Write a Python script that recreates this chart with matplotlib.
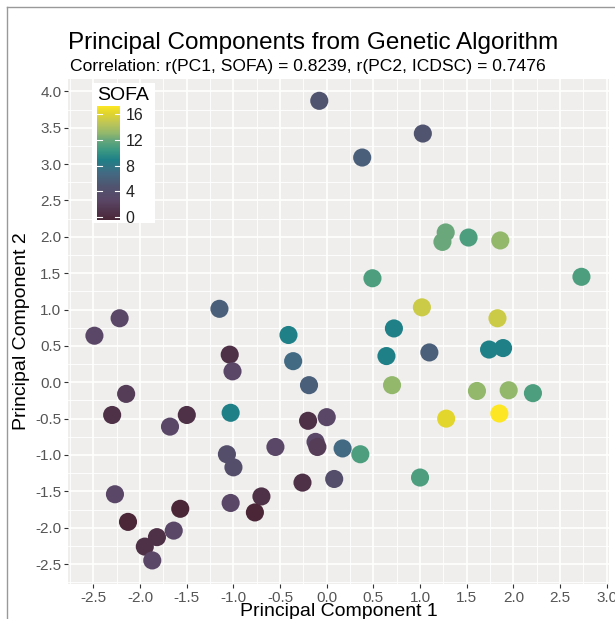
import numpy as np
import matplotlib
matplotlib.use("Agg")
import matplotlib.pyplot as plt
from matplotlib.colors import LinearSegmentedColormap, Normalize
from matplotlib.lines import Line2D
from matplotlib.ticker import MultipleLocator

plt.rcParams['font.family'] = ['Liberation Sans', 'DejaVu Sans']

# 主成分スコアとSOFA
pc1 = [-0.08, 0.38, 1.03,
       1.275, 1.24, 1.52, 1.86, 0.49, 2.73,
       1.02, 1.83, 0.72, 0.64, 1.10, 1.74, 1.89,
       0.70, 1.61, 1.95, 2.21, 1.28, 1.85,
       -0.19, -0.20, 0.00, -0.12, -0.10, 0.17, 0.36, -0.26, 0.08, 1.00,
       -1.15, -0.41, -1.04, -1.01, -0.36, -1.03,
       -1.07, -1.00, -0.55, -1.03, -0.70, -0.77,
       -2.22, -2.49, -2.15, -2.30, -1.50, -1.68,
       -2.27, -2.13, -1.57, -1.64, -1.82, -1.95, -1.87]
pc2 = [3.87, 3.09, 3.42,
       2.06, 1.93, 1.99, 1.95, 1.43, 1.45,
       1.03, 0.88, 0.74, 0.36, 0.41, 0.45, 0.47,
       -0.04, -0.12, -0.11, -0.15, -0.50, -0.43,
       -0.04, -0.53, -0.48, -0.82, -0.89, -0.91, -0.99, -1.38, -1.33, -1.31,
       1.01, 0.65, 0.38, 0.15, 0.29, -0.42,
       -0.99, -1.17, -0.89, -1.66, -1.57, -1.79,
       0.88, 0.64, -0.16, -0.45, -0.45, -0.61,
       -1.54, -1.92, -1.74, -2.04, -2.13, -2.26, -2.45]
sofa = [5, 6, 5,
        12, 12, 11, 13, 11, 11,
        15, 15, 9, 9, 6, 9, 9,
        13, 13, 13, 11, 16, 17,
        6, 1, 3, 3, 2, 7, 11, 1, 4, 11,
        6, 9, 1, 3, 7, 9,
        4, 4, 3, 3, 1, 0,
        3, 3, 2, 1, 1, 3,
        3, 0, 0, 3, 1, 1, 3]

sofa_ticks = [0, 4, 8, 12, 16]
x_ticks = [-2.5, -2.0, -1.5, -1.0, -0.5, 0.0, 0.5, 1.0, 1.5, 2.0, 2.5, 3.0]
y_ticks = [-2.5, -2.0, -1.5, -1.0, -0.5, 0.0, 0.5, 1.0, 1.5, 2.0, 2.5, 3.0, 3.5, 4.0]

# カラーマップ
anchors = [(0.0, "#4a2637"), (3/17, "#5a4767"), (5/17, "#50546f"),
           (7/17, "#436a83"), (9/17, "#1f8087"), (10.5/17, "#3d9a82"),
           (12/17, "#6aa77a"), (13/17, "#93b86c"), (14.5/17, "#bfc656"),
           (16/17, "#e2d52b"), (1.0, "#fde725")]
cmap = LinearSegmentedColormap.from_list("sofa", anchors)
norm = Normalize(vmin=0, vmax=17)

W, H = 615, 619
fig = plt.figure(figsize=(W/100, H/100), dpi=100)

def fx(px):
    return px / W

def fy(py):
    return 1 - py / H

# 描画領域
left, right, top, bottom = 68.3, 608.5, 79, 583.7
ax = fig.add_axes([fx(left), fy(bottom), (right-left)/W, (bottom-top)/H])
ax.set_facecolor("#efeeed")
ax.scatter(pc1, pc2, c=sofa, cmap=cmap, norm=norm, s=170, edgecolors="none", zorder=3)
ax.set_xlim(-2.77, 3.02)
ax.set_ylim(-2.77, 4.17)
ax.set_xticks(x_ticks)
ax.set_yticks(y_ticks)
ax.set_xticklabels([f"{v:.1f}" for v in x_ticks])
ax.set_yticklabels([f"{v:.1f}" for v in y_ticks])
ax.xaxis.set_minor_locator(MultipleLocator(0.25))
ax.yaxis.set_minor_locator(MultipleLocator(0.25))
ax.grid(which="major", color="white", lw=1.2, zorder=0)
ax.grid(which="minor", color="white", lw=0.6, zorder=0)
ax.set_axisbelow(True)
for s in ax.spines.values():
    s.set_visible(False)
ax.tick_params(which="major", length=3, width=0.8, color="#333333",
               labelsize=11, labelcolor="#555555", pad=2)
ax.tick_params(which="minor", length=0)
ax.set_xlabel("Principal Component 1", fontsize=14, labelpad=-1)
ax.set_ylabel("Principal Component 2", fontsize=14, labelpad=4)

fig.text(fx(68), fy(43), "Principal Components from Genetic Algorithm",
         fontsize=17.5, ha="left", va="center")
fig.text(fx(70), fy(66), "Correlation: r(PC1, SOFA) = 0.8239, r(PC2, ICDSC) = 0.7476",
         fontsize=12.6, ha="left", va="center")

# 凡例 (カラーバー)
bg = fig.add_axes([fx(92), fy(223), 63/W, 140/H])
bg.set_facecolor("white")
bg.set_xticks([])
bg.set_yticks([])
for s in bg.spines.values():
    s.set_visible(False)
bg.set_zorder(5)
cax = fig.add_axes([fx(97), fy(220), 23/W, 114/H])
cax.set_zorder(6)
cb = fig.colorbar(plt.cm.ScalarMappable(norm=Normalize(-0.5, 17.3), cmap=cmap),
                  cax=cax, ticks=sofa_ticks)
cb.outline.set_visible(False)
cb.ax.tick_params(length=0, labelsize=11.5, labelcolor="#222222", pad=4)
for t in sofa_ticks:
    cax.plot([0, 0.2], [t, t], color="white", lw=0.8, transform=cax.get_yaxis_transform())
    cax.plot([0.8, 1.0], [t, t], color="white", lw=0.8, transform=cax.get_yaxis_transform())
fig.text(fx(123), fy(95), "SOFA", fontsize=14, ha="center", va="center", zorder=7)

# 外枠
fig.add_artist(Line2D([fx(7), 1], [fy(7), fy(7)], color="#999999", lw=1))
fig.add_artist(Line2D([fx(7), fx(7)], [fy(7), 0], color="#999999", lw=1))

fig.savefig("out.png", dpi=100)
